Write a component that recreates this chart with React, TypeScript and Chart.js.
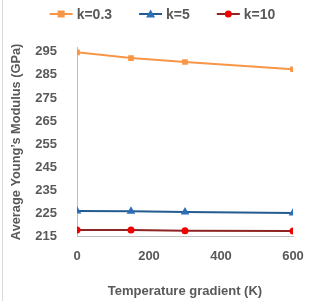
import React, { useEffect, useRef } from "react";
import { Chart, registerables } from "chart.js";

Chart.register(...registerables);

const temperatures = [0, 150, 300, 600];
const k03 = [294.7, 292.2, 290.5, 287.4];
const k5 = [226.2, 226.0, 225.7, 225.3];
const k10 = [217.9, 217.9, 217.6, 217.5];
const seriesLabels = ["k=0.3", "k=5", "k=10"];
const yTicks = [215, 225, 235, 245, 255, 265, 275, 285, 295];
const xTicks = [0, 200, 400, 600];

const TEXT = "#595959";
const FONT = "'Liberation Sans', Arial, sans-serif";

const styles = [
  { line: "#F79646", fill: "#F79646", shape: "rect", radius: 4 },
  { line: "#245B91", fill: "#2C6FB6", shape: "triangle", radius: 5 },
  { line: "#8E2424", fill: "#F00000", shape: "circle", radius: 3.5 },
];

const legendPlugin = {
  id: "lineLegend",
  afterDraw(chart: any) {
    const ctx = chart.ctx as CanvasRenderingContext2D;
    ctx.save();
    ctx.font = `bold 14px ${FONT}`;
    ctx.textBaseline = "middle";
    const lineW = 23;
    const gapText = 4;
    const gapItem = 27;
    const widths = seriesLabels.map((t) => ctx.measureText(t).width);
    const total =
      widths.reduce((a, w) => a + lineW + gapText + w, 0) + gapItem * (seriesLabels.length - 1);
    let x = 162.5 - total / 2;
    const y = 14;
    seriesLabels.forEach((t, i) => {
      const s = styles[i];
      ctx.strokeStyle = s.line;
      ctx.lineWidth = 2;
      ctx.beginPath();
      ctx.moveTo(x, y);
      ctx.lineTo(x + lineW, y);
      ctx.stroke();
      const cx = x + lineW / 2;
      ctx.fillStyle = s.fill;
      ctx.beginPath();
      if (s.shape === "rect") {
        ctx.rect(cx - 3.5, y - 3.5, 7, 7);
      } else if (s.shape === "triangle") {
        ctx.moveTo(cx, y - 4.5);
        ctx.lineTo(cx + 4.5, y + 3.5);
        ctx.lineTo(cx - 4.5, y + 3.5);
        ctx.closePath();
      } else {
        ctx.arc(cx, y, 3.5, 0, Math.PI * 2);
      }
      ctx.fill();
      ctx.fillStyle = TEXT;
      ctx.textAlign = "left";
      ctx.fillText(t, x + lineW + gapText, y + 1);
      x += lineW + gapText + widths[i] + gapItem;
    });
    ctx.restore();
  },
};

export default function App() {
  const ref = useRef<HTMLCanvasElement>(null);
  useEffect(() => {
    const values = [k03, k5, k10];
    const chart = new Chart(ref.current!, {
      type: "line",
      data: {
        datasets: values.map((v, i) => ({
          label: seriesLabels[i],
          data: v.map((y, j) => ({ x: temperatures[j], y })),
          borderColor: styles[i].line,
          backgroundColor: styles[i].fill,
          pointBackgroundColor: styles[i].fill,
          pointBorderColor: styles[i].fill,
          pointStyle: styles[i].shape as any,
          pointRadius: styles[i].radius,
          pointBorderWidth: 0,
          borderWidth: 2,
          tension: 0,
        })),
      },
      plugins: [legendPlugin],
      options: {
        animation: false,
        responsive: false,
        layout: { padding: { left: 8, right: 26, top: 47, bottom: 2 } },
        plugins: {
          tooltip: { enabled: false },
          legend: { display: false },
        },
        scales: {
          x: {
            type: "linear",
            min: 0,
            max: 600,
            afterBuildTicks: (axis: any) => {
              axis.ticks = xTicks.map((v) => ({ value: v }));
            },
            grid: { display: false },
            border: { display: true, color: "#BFBFBF", width: 1 },
            ticks: {
              color: TEXT,
              padding: 4,
              font: { family: FONT, size: 13, weight: "bold" },
            },
            title: {
              display: true,
              text: "Temperature gradient (K)",
              color: TEXT,
              padding: { top: 15, bottom: 0 },
              font: { family: FONT, size: 13, weight: "bold" },
            },
          },
          y: {
            type: "linear",
            min: 215,
            max: 297,
            afterBuildTicks: (axis: any) => {
              axis.ticks = yTicks.map((v) => ({ value: v }));
            },
            afterFit: (axis: any) => {
              axis.width = 69;
            },
            grid: { display: false },
            border: { display: true, color: "#BFBFBF", width: 1 },
            ticks: {
              color: TEXT,
              padding: 12,
              font: { family: FONT, size: 13, weight: "bold" },
            },
            title: {
              display: true,
              text: "Average Young\u2019s Modulus (GPa)",
              color: TEXT,
              padding: { top: 1, bottom: 0 },
              font: { family: FONT, size: 12.8, weight: "bold" },
            },
          },
        },
      } as any,
    });
    return () => chart.destroy();
  }, []);
  return (
    <div style={{ position: "fixed", left: 0, top: 0, width: 319, height: 301, background: "#fff" }}>
      <div style={{ position: "absolute", left: 2, top: 0, width: 1, height: 301, background: "#D9D9D9" }} />
      <canvas ref={ref} width={319} height={301} style={{ position: "relative", display: "block" }} />
    </div>
  );
}
